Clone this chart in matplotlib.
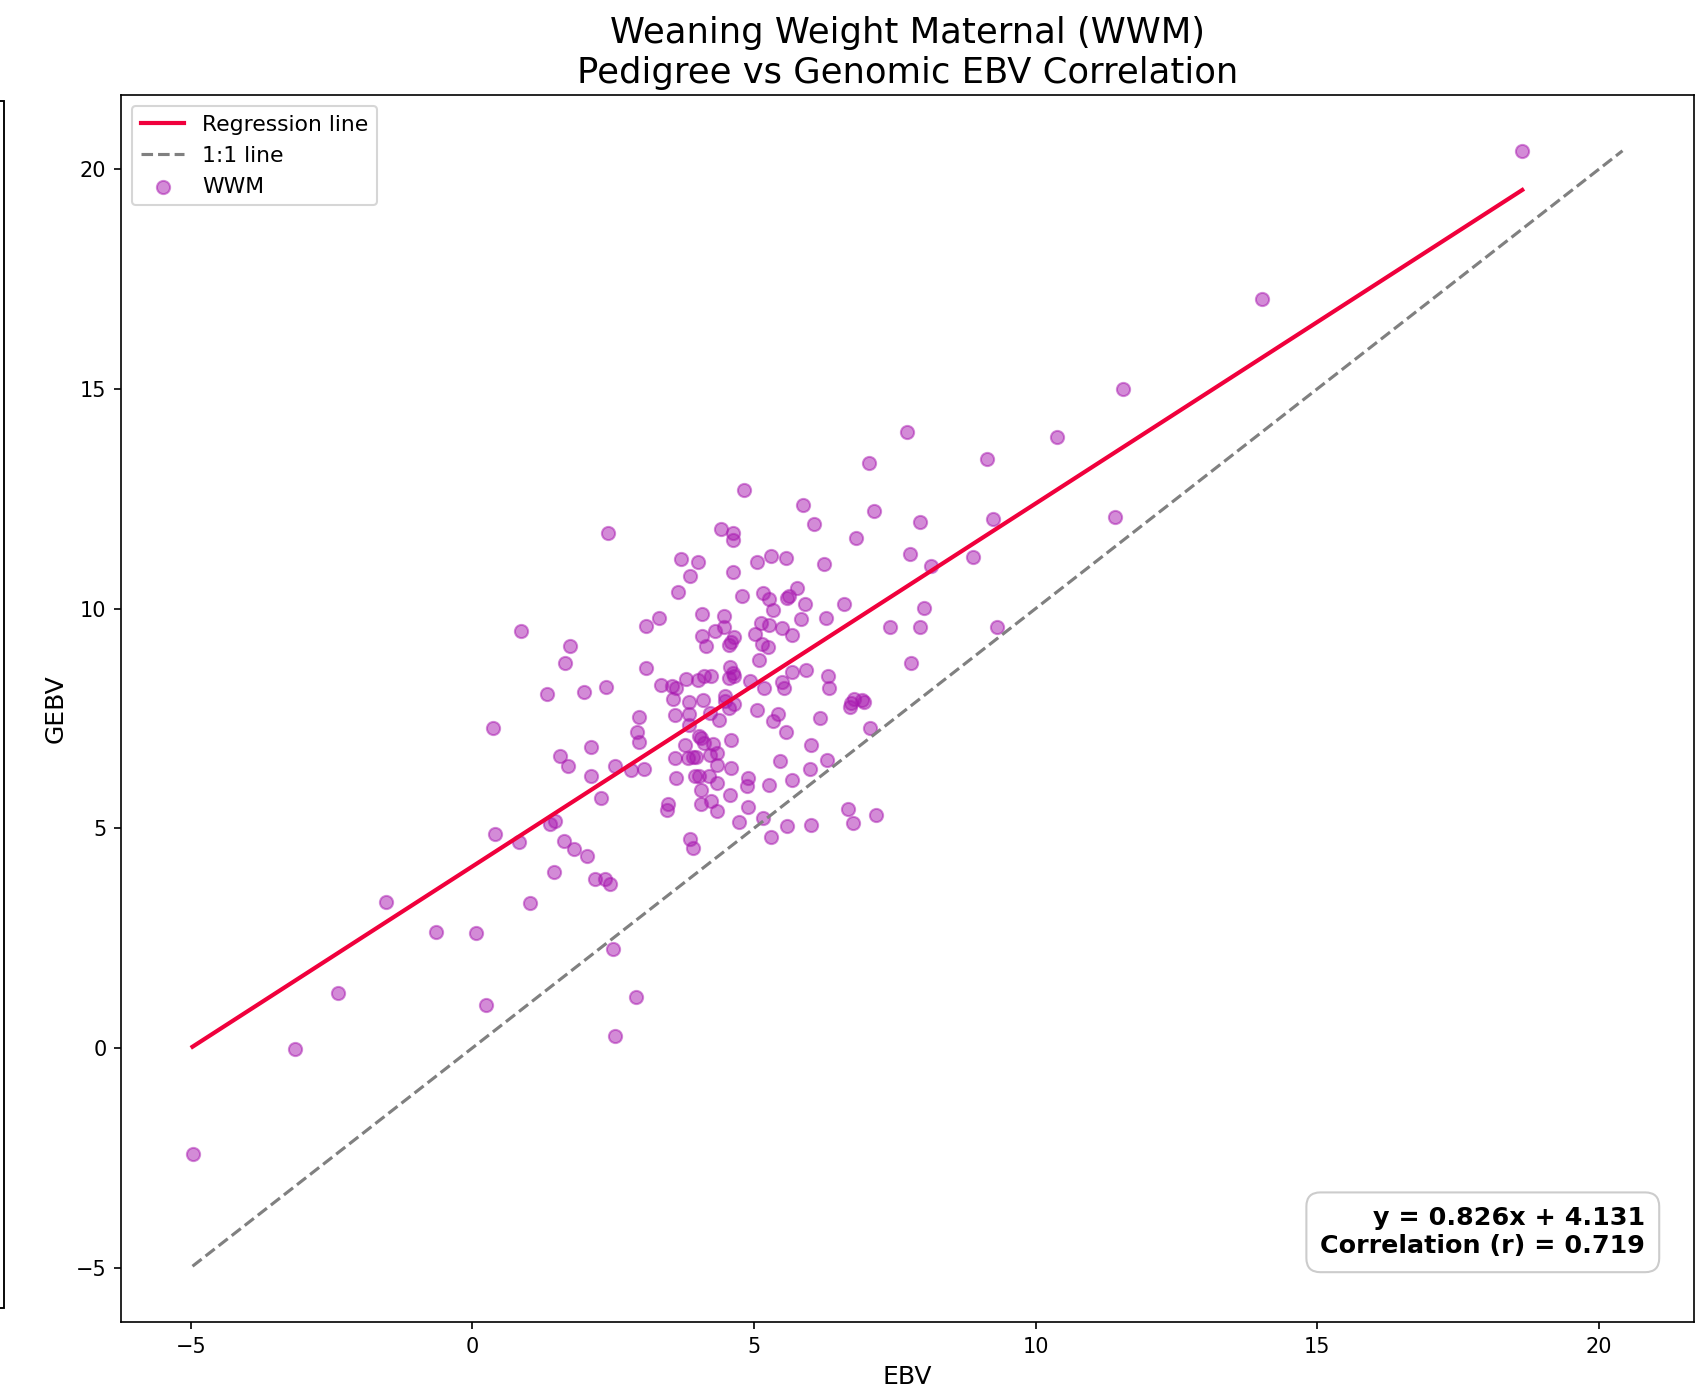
import numpy as np
import matplotlib
matplotlib.use('Agg')
import matplotlib.pyplot as plt
from matplotlib.patches import Rectangle


# EBV (pedigree) vs GEBV (genomic) values
ebv = [18.64, 14.02, 11.55, 10.38, 9.13, 7.71, 7.04, 11.41, 9.24, 8.88,
       8.15, 7.94, 7.77, 7.13, 6.81, 6.24, 6.06, 5.87, 4.83, 4.41,
       4.62, 4.62, 2.40, 8.02, 7.94, 7.42, 9.32, 7.79, 6.60, 6.27,
       6.31, 6.33, 6.29, 6.18, 6.73, 6.77, 6.92, 6.96, 6.71, 7.06,
       6.66, 6.75, 7.17, 6.02, 5.58, 5.31, 6.00, 6.02, 5.68, 5.47,
       5.26, 5.16, 4.74, 4.89, 4.87, 4.89, 4.58, 4.35, 4.35, 4.24,
       4.20, 4.05, 4.05, 3.87, 3.91, 3.47, 3.45, 3.62, 3.60, 3.82,
       3.91, 3.97, 3.78, 3.95, 4.03, 4.22, 4.28, 4.35, 4.35, 4.60,
       4.60, 4.12, 4.03, 4.05, 4.37, 4.55, 4.64, 4.49, 4.49, 4.22,
       4.09, 3.84, 3.84, 3.84, 3.59, 3.57, 3.55, 3.62, 3.34, 3.80,
       4.01, 4.12, 4.24, 4.58, 4.62, 4.64, 4.55, 4.93, 5.18, 5.54,
       5.50, 5.68, 5.93, 5.06, 5.43, 5.33, 5.56, 5.08, 5.14, 5.24,
       5.26, 5.02, 5.12, 4.56, 4.60, 4.64, 4.47, 4.47, 4.30, 4.14,
       4.07, 4.07, 4.62, 4.79, 5.33, 5.16, 5.26, 5.58, 5.62, 5.91,
       5.77, 5.83, 5.50, 5.68, 5.06, 5.31, 5.56, 4.01, 3.70, 3.86,
       3.65, 3.32, 3.09, 3.09, 2.95, 2.92, 2.95, 3.05, 2.82, 2.53,
       2.38, 1.99, 1.32, 1.74, 1.65, 0.86, 0.36, 2.11, 1.55, 1.69,
       2.11, 2.28, 2.17, 2.36, 2.44, 2.03, 1.80, 1.63, 1.44, 1.46,
       1.38, 0.82, 0.40, 1.02, -1.53, -0.65, 0.06, 0.25, -2.38, -3.15,
       -4.97, 2.49, 2.90, 2.53]
gebv = [20.42, 17.05, 14.99, 13.90, 13.41, 14.03, 13.31, 12.08, 12.03, 11.17,
        10.97, 11.96, 11.25, 12.23, 11.61, 11.02, 11.93, 12.35, 12.70, 11.81,
        11.71, 11.57, 11.71, 10.01, 9.57, 9.57, 9.57, 8.76, 10.11, 9.79,
        8.46, 8.19, 6.55, 7.50, 7.85, 7.95, 7.92, 7.87, 7.75, 7.28,
        5.44, 5.12, 5.31, 5.07, 5.04, 4.80, 6.35, 6.89, 6.10, 6.52,
        5.98, 5.24, 5.14, 5.49, 5.95, 6.15, 5.76, 5.39, 6.03, 5.61,
        6.18, 5.88, 5.56, 4.75, 4.55, 5.54, 5.41, 6.15, 6.59, 6.59,
        6.62, 6.62, 6.89, 6.18, 6.18, 6.67, 6.91, 6.72, 6.45, 6.37,
        7.01, 6.94, 7.09, 7.05, 7.46, 7.73, 7.82, 8.02, 7.90, 7.63,
        7.92, 7.36, 7.60, 7.87, 7.58, 7.95, 8.24, 8.19, 8.27, 8.39,
        8.37, 8.46, 8.46, 8.66, 8.54, 8.46, 8.42, 8.34, 8.19, 8.19,
        8.32, 8.56, 8.59, 7.70, 7.60, 7.43, 7.18, 8.83, 9.20, 9.13,
        9.62, 9.42, 9.67, 9.18, 9.25, 9.35, 9.57, 9.82, 9.50, 9.15,
        9.37, 9.87, 10.83, 10.29, 9.97, 10.36, 10.21, 10.24, 10.29, 10.11,
        10.46, 9.77, 9.55, 9.40, 11.05, 11.20, 11.15, 11.05, 11.12, 10.73,
        10.38, 9.79, 9.60, 8.64, 7.53, 7.19, 6.96, 6.35, 6.32, 6.42,
        8.22, 8.10, 8.05, 9.15, 8.76, 9.50, 7.28, 6.84, 6.64, 6.42,
        6.18, 5.68, 3.84, 3.84, 3.74, 4.36, 4.53, 4.72, 4.01, 5.17,
        5.09, 4.68, 4.87, 3.30, 3.32, 2.63, 2.61, 0.98, 1.25, -0.02,
        -2.41, 2.24, 1.16, 0.27]

# regression summary printed on the chart
slope = 0.826
intercept = 4.131
r_value = 0.719

ebv = np.array(ebv)
gebv = np.array(gebv)

fig = plt.figure(figsize=(1696 / 150, 1386 / 150), dpi=150)
ax = fig.add_axes([121 / 1696, 1 - 1322 / 1386, 1573 / 1696, 1227 / 1386])

# edge of a neighbouring panel cut off at the left side of the image
fig.add_artist(Rectangle((-0.02, 1 - 1308 / 1386), 0.02 + 4 / 1696, (1308 - 101) / 1386,
                         transform=fig.transFigure, fill=False, edgecolor='black',
                         linewidth=0.9, clip_on=False))

x_line = np.array([ebv.min(), ebv.max()])
ax.plot(x_line, slope * x_line + intercept, color='#f0003c', linewidth=2,
        label='Regression line')

lo = min(ebv.min(), gebv.min())
hi = max(ebv.max(), gebv.max())
ax.plot([lo, hi], [lo, hi], color='gray', linestyle='--', linewidth=1.5,
        label='1:1 line')

ax.scatter(ebv, gebv, color='#a818b0', alpha=0.5, s=40, label='WWM')

ax.set_xlabel('EBV', fontsize=12)
ax.set_ylabel('GEBV', fontsize=12)
ax.set_title('Weaning Weight Maternal (WWM)\nPedigree vs Genomic EBV Correlation',
             fontsize=17)
ax.legend(loc='upper left', fontsize=10.5)

ax.text(0.969, 0.052, 'y = %.3fx + %.3f\nCorrelation (r) = %.3f' % (slope, intercept, r_value),
        transform=ax.transAxes, ha='right', va='bottom', fontsize=12.2,
        fontweight='bold', multialignment='right',
        bbox=dict(boxstyle='round,pad=0.55', facecolor='white', edgecolor='#cccccc'))

fig.savefig('out.png', dpi=150)
